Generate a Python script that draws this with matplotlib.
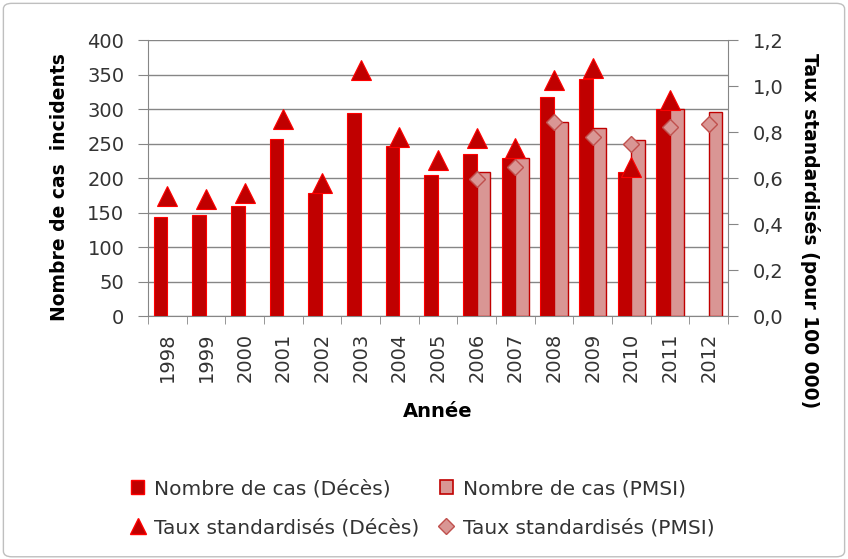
import numpy as np
import matplotlib.pyplot as plt
from matplotlib.patches import FancyBboxPatch
from matplotlib.lines import Line2D
from matplotlib.patches import Patch

plt.rcParams['font.family'] = ['DejaVu Sans']

years = ['1998', '1999', '2000', '2001', '2002', '2003', '2004', '2005',
         '2006', '2007', '2008', '2009', '2010', '2011', '2012']
cas_deces = [143, 146, 160, 256, 178, 294, 246, 204, 235, 229, 317, 343, 209, 300, np.nan]
cas_pmsi = [np.nan] * 8 + [209, 229, 281, 272, 255, 300, 296]
taux_deces = [0.52, 0.51, 0.535, 0.858, 0.58, 1.07, 0.78, 0.677, 0.774, 0.73, 1.026, 1.078, 0.649, 0.94, np.nan]
taux_pmsi = [np.nan] * 8 + [0.597, 0.646, 0.843, 0.78, 0.748, 0.823, 0.835]

dark_red = '#C00000'
pink = '#D99694'
txt = '#333333'

fig = plt.figure(figsize=(8.48, 5.59), dpi=100)
frame = FancyBboxPatch((0.004, 0.004), 0.992, 0.99, boxstyle='round,pad=0,rounding_size=0.01',
                       transform=fig.transFigure, fc='white', ec='#BFBFBF', lw=1, zorder=-10)
fig.patches.append(frame)
ax = fig.add_axes([0.1745, 0.4347, 0.684, 0.4937])
ax2 = ax.twinx()

x = np.arange(len(years))
w = 0.35
ax.bar(x - w / 2, cas_deces, w, color=dark_red, edgecolor='#FF0000', linewidth=0.8, zorder=3)
ax.bar(x + w / 2, cas_pmsi, w, color=pink, edgecolor=dark_red, linewidth=1, zorder=3)

ax2.plot(x, taux_deces, linestyle='none', marker='^', markersize=15, color=dark_red,
         markeredgecolor='#FF0000', markeredgewidth=0.8, zorder=4)
ax2.plot(x, taux_pmsi, linestyle='none', marker='D', markersize=8, color=pink,
         markeredgecolor='#C0504D', markeredgewidth=1, zorder=4)

ax.set_xlim(-0.5, len(years) - 0.5)
ax.set_ylim(0, 400)
ax.set_yticks(range(0, 401, 50))
ax2.set_ylim(0, 1.2)
ax2.set_yticks(np.arange(0, 1.21, 0.2))
ax2.set_yticklabels(['{:.1f}'.format(v).replace('.', ',') for v in np.arange(0, 1.21, 0.2)])

ax.set_xticks(x)
ax.set_xticklabels(years, rotation=90)
ax.set_xticks(np.arange(-0.5, len(years), 1), minor=True)
ax.tick_params(axis='x', which='major', length=0, pad=12)
ax.tick_params(axis='x', which='minor', length=6, color='#868686')

ax.grid(axis='y', color='#868686', linewidth=1, zorder=0)
ax.set_axisbelow(True)

for a in (ax, ax2):
    for s in a.spines.values():
        s.set_visible(False)
    a.tick_params(axis='y', length=7, color='#868686', labelsize=14, labelcolor=txt)
ax.tick_params(axis='y', pad=10)
ax2.tick_params(axis='y', pad=11)
ax.tick_params(axis='x', labelsize=14, labelcolor=txt)
ax.spines['left'].set_visible(True)
ax.spines['left'].set_color('#868686')
ax.spines['bottom'].set_visible(True)
ax.spines['bottom'].set_color('#868686')
ax2.spines['right'].set_visible(True)
ax2.spines['right'].set_color('#868686')

ax.set_ylabel('Nombre de cas  incidents', fontsize=13.5, fontweight='bold')
ax.yaxis.set_label_coords(-0.152, 0.467)
ax.yaxis.label.set_va('center')
ax2.set_ylabel('Taux standardisés (pour 100 000)', fontsize=13.5, fontweight='bold', rotation=270)
ax2.yaxis.set_label_coords(1.141, 0.31)
ax2.yaxis.label.set_va('center')
ax.set_xlabel('Année', fontsize=14, fontweight='bold')
ax.xaxis.set_label_coords(0.5, -0.345)
ax.xaxis.label.set_va('center')

handles = [Patch(facecolor=dark_red, edgecolor='#FF0000'),
           Line2D([], [], linestyle='none', marker='^', markersize=12, color=dark_red, markeredgecolor='#FF0000'),
           Patch(facecolor=pink, edgecolor=dark_red, linewidth=1.2),
           Line2D([], [], linestyle='none', marker='D', markersize=8, color=pink, markeredgecolor='#C0504D')]
labels = ['Nombre de cas (Décès)', 'Taux standardisés (Décès)',
          'Nombre de cas (PMSI)', 'Taux standardisés (PMSI)']
fig.legend(handles, labels, ncol=2, loc='center left', bbox_to_anchor=(0.145, 0.091), frameon=False,
           borderaxespad=0, fontsize=14.5, handlelength=0.65, handleheight=0.65, handletextpad=0.5,
           columnspacing=1.0, labelspacing=1.0, labelcolor=txt)

fig.savefig('out.png', dpi=100)
